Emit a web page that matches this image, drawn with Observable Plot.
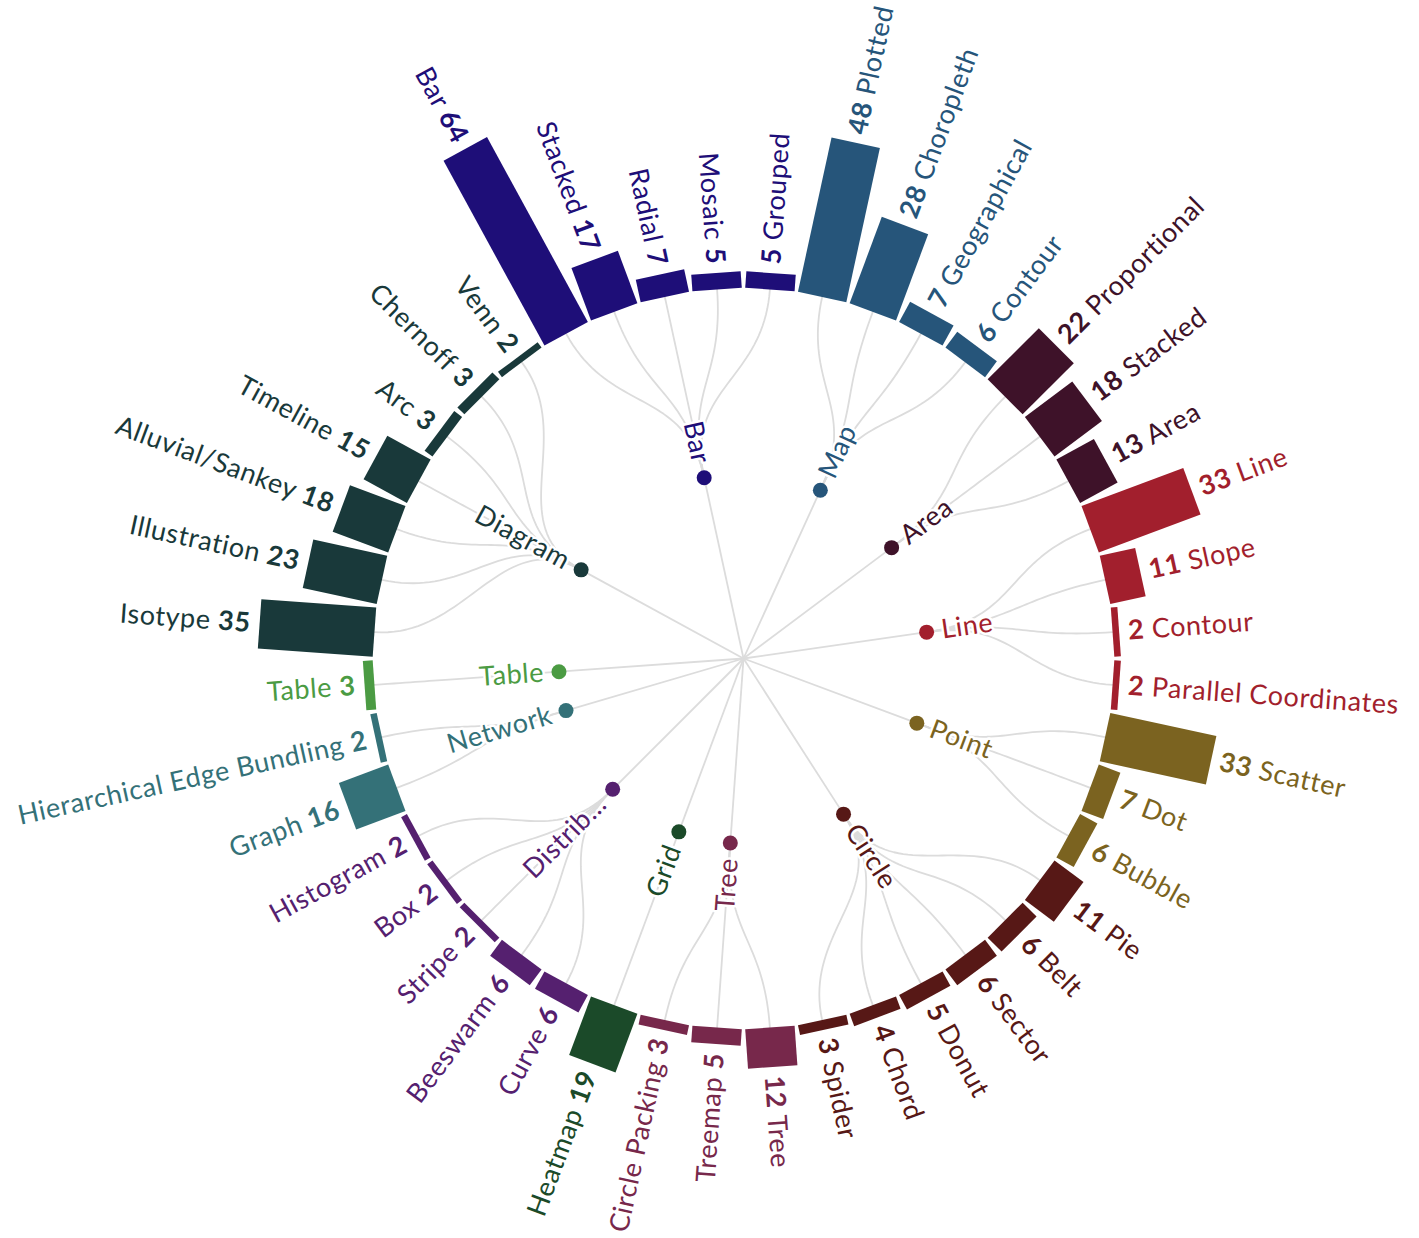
<!DOCTYPE html>
<html><head><meta charset="utf-8">
<script src="https://cdn.jsdelivr.net/npm/d3@7"></script>
<script src="https://cdn.jsdelivr.net/npm/@observablehq/plot@0.6"></script>
<style>
html,body{margin:0;padding:0;background:#fff;}
#chart svg{display:block;}
</style>
</head><body><div id="chart"></div>
<script>
// ---- data ----
const groupNames = ["Bar","Map","Area","Line","Point","Circle","Tree","Grid","Distribution","Network","Table","Diagram"];
const groupColors = ["#1e0e78","#26557a","#3e1229","#a21f2d","#7b6320","#571816","#77284b","#1b4a29","#55206f","#347178","#4b9b43","#19393a"];
const leafNames = ["Bar","Stacked","Radial","Mosaic","Grouped",
  "Plotted","Choropleth","Geographical","Contour",
  "Proportional","Stacked","Area",
  "Line","Slope","Contour","Parallel Coordinates",
  "Scatter","Dot","Bubble",
  "Pie","Belt","Sector","Donut","Chord","Spider",
  "Tree","Treemap","Circle Packing",
  "Heatmap",
  "Curve","Beeswarm","Stripe","Box","Histogram",
  "Graph","Hierarchical Edge Bundling",
  "Table",
  "Isotype","Illustration","Alluvial/Sankey","Timeline","Arc","Chernoff","Venn"];
const leafValues = [64,17,7,5,5, 48,28,7,6, 22,18,13, 33,11,2,2, 33,7,6, 11,6,6,5,4,3, 12,5,3, 19, 6,6,2,2,2, 16,2, 3, 35,23,18,15,3,3,2];
const leafGroups = ["Bar","Bar","Bar","Bar","Bar",
  "Map","Map","Map","Map",
  "Area","Area","Area",
  "Line","Line","Line","Line",
  "Point","Point","Point",
  "Circle","Circle","Circle","Circle","Circle","Circle",
  "Tree","Tree","Tree",
  "Grid",
  "Distribution","Distribution","Distribution","Distribution","Distribution",
  "Network","Network",
  "Table",
  "Diagram","Diagram","Diagram","Diagram","Diagram","Diagram","Diagram"];

// ---- layout ----
const W = 1419, H = 1238, cx = 743, cy = 658;
const N = leafNames.length, step = 360 / N, rotation = -3.5 * step;
const innerR = 370, groupR = 185, unit = 3.29, labelPad = 9, groupPad = 15;
const FS = 27;
const toRad = Math.PI / 180;
const norm = a => ((a % 360) + 360) % 360;
const polar = (a, r) => [r * Math.sin(a * toRad), -r * Math.cos(a * toRad)];

const leaves = leafNames.map((name, i) => {
  const araw = rotation + i * step, a = norm(araw);
  const value = leafValues[i], group = leafGroups[i];
  const [xi, yi] = polar(araw, innerR);
  const [xo, yo] = polar(araw, innerR + value * unit);
  const [xl, yl] = polar(araw, innerR + value * unit + labelPad);
  return {i, name, value, group, araw, a, xi, yi, xo, yo, xl, yl, right: a < 180};
});
const groupNodes = groupNames.map(g => {
  const kids = leaves.filter(d => d.group === g);
  const araw = d3.mean(kids, d => d.araw), a = norm(araw);
  const [x, y] = polar(araw, groupR);
  const [xl, yl] = polar(araw, groupR + groupPad);
  return {group: g, label: g.length > 9 ? g.slice(0, 7) + "…" : g, araw, a, x, y, xl, yl, right: a < 180};
});
const linkPts = [];
leaves.forEach(d => {
  const g = groupNodes.find(n => n.group === d.group);
  const rm = (groupR + innerR) / 2;
  const p0 = polar(g.araw, groupR), p1 = polar(g.araw, rm), p2 = polar(d.araw, rm), p3 = polar(d.araw, innerR);
  for (let s = 0; s <= 40; s++) {
    const t = s / 40, u = 1 - t;
    const b0 = u*u*u, b1 = 3*u*u*t, b2 = 3*u*t*t, b3 = t*t*t;
    linkPts.push({id: d.i, x: b0*p0[0]+b1*p1[0]+b2*p2[0]+b3*p3[0], y: b0*p0[1]+b1*p1[1]+b2*p2[1]+b3*p3[1]});
  }
});

const rightLeaves = leaves.filter(d => d.right), leftLeaves = leaves.filter(d => !d.right);
const rightGroups = groupNodes.filter(d => d.right), leftGroups = groupNodes.filter(d => !d.right);

const chart = Plot.plot({
  width: W, height: H, margin: 0,
  x: {domain: [-cx, W - cx], range: [0, W], axis: null},
  y: {domain: [-cy, H - cy], range: [0, H], axis: null},
  color: {domain: groupNames, range: groupColors},
  style: {fontFamily: "Lato, sans-serif", background: "white", overflow: "visible"},
  marks: [
    Plot.link(groupNodes, {x1: () => 0, y1: () => 0, x2: "x", y2: "y", stroke: "#dcdcdc", strokeWidth: 1.8}),
    Plot.line(linkPts, {x: "x", y: "y", z: "id", stroke: "#dcdcdc", strokeWidth: 1.8}),
    Plot.link(leaves, {x1: "xi", y1: "yi", x2: "xo", y2: "yo", stroke: "group", strokeWidth: 49.5}),
    Plot.dot(groupNodes, {x: "x", y: "y", r: 7.5, fill: "group"}),
    Plot.text(rightLeaves, {x: "xl", y: "yl", text: d => `${d.value} ${d.name}`, rotate: d => d.a - 90, textAnchor: "start", fill: "group", fontSize: FS}),
    Plot.text(leftLeaves, {x: "xl", y: "yl", text: d => `${d.name} ${d.value}`, rotate: d => d.a + 90, textAnchor: "end", fill: "group", fontSize: FS}),
    Plot.text(rightGroups, {x: "xl", y: "yl", text: "label", rotate: d => d.a - 90, textAnchor: "start", fill: "group", fontSize: FS, stroke: "white", strokeWidth: 5}),
    Plot.text(leftGroups, {x: "xl", y: "yl", text: "label", rotate: d => d.a + 90, textAnchor: "end", fill: "group", fontSize: FS, stroke: "white", strokeWidth: 5})
  ]
});

// bold values inside leaf labels
const NS = "http://www.w3.org/2000/svg";
const textGs = chart.querySelectorAll('g[aria-label="text"]');
function boldify(g, data, valueFirst) {
  g.querySelectorAll("text").forEach((t, i) => {
    const d = data[i];
    while (t.firstChild) t.removeChild(t.firstChild);
    const b = document.createElementNS(NS, "tspan");
    b.setAttribute("font-weight", "bold");
    b.textContent = String(d.value);
    if (valueFirst) { t.appendChild(b); t.appendChild(document.createTextNode(" " + d.name)); }
    else { t.appendChild(document.createTextNode(d.name + " ")); t.appendChild(b); }
  });
}
boldify(textGs[0], rightLeaves, true);
boldify(textGs[1], leftLeaves, false);
[textGs[2], textGs[3]].forEach(g => g.setAttribute("paint-order", "stroke"));
textGs.forEach(g => g.setAttribute("letter-spacing", "0.6"));

document.getElementById("chart").appendChild(chart);
</script>
</body></html>
